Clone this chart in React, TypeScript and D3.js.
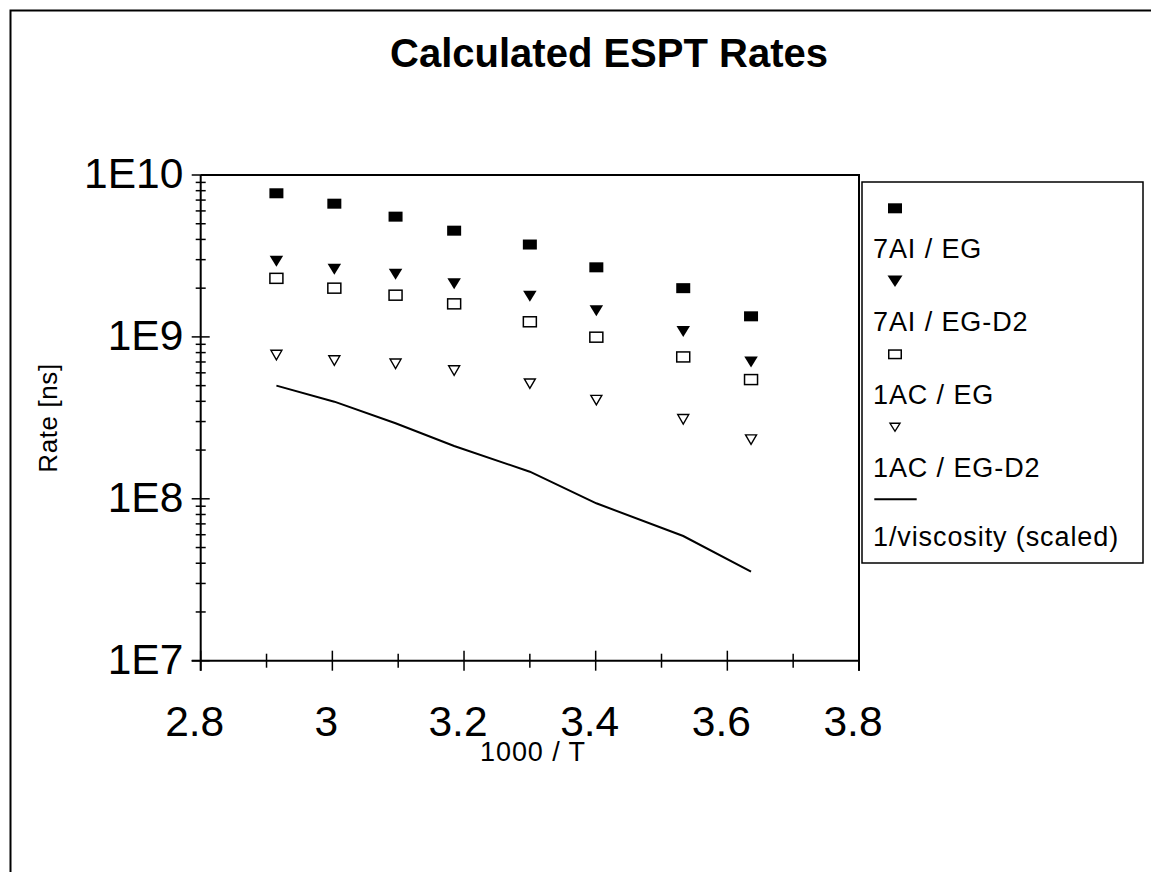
import React from "react";
import * as d3 from "d3";

const invT = [2.915, 3.003, 3.096, 3.185, 3.3, 3.401, 3.533, 3.636];
const ai7EG = [7.71e9, 6.65e9, 5.53e9, 4.53e9, 3.72e9, 2.69e9, 2.0e9, 1.34e9];
const ai7EGD2 = [2.93e9, 2.62e9, 2.44e9, 2.13e9, 1.78e9, 1.45e9, 1.08e9, 7.0e8];
const ac1EG = [2.3e9, 2.0e9, 1.81e9, 1.6e9, 1.24e9, 9.96e8, 7.52e8, 5.45e8];
const ac1EGD2 = [7.73e8, 7.15e8, 6.82e8, 6.2e8, 5.14e8, 4.07e8, 3.1e8, 2.32e8];
const invVisc = [5.0e8, 3.98e8, 2.93e8, 2.12e8, 1.47e8, 9.38e7, 5.89e7, 3.55e7];

const xMajorTicks = [2.8, 3.0, 3.2, 3.4, 3.6, 3.8];
const xMinorTicks = [2.9, 3.1, 3.3, 3.5, 3.7];
const xTickLabels = ["2.8", "3", "3.2", "3.4", "3.6", "3.8"];
const yMajorTicks = [1e7, 1e8, 1e9, 1e10];
const yTickLabels = ["1E7", "1E8", "1E9", "1E10"];
const legendLabels = ["7AI / EG", "7AI / EG-D2", "1AC / EG", "1AC / EG-D2", "1/viscosity (scaled)"];

const FONT = "'Liberation Sans', Arial, sans-serif";

export default function App() {
  const x = d3.scaleLinear().domain([2.8, 3.8]).range([200.7, 859]);
  const y = d3.scaleLog().domain([1e7, 1e10]).range([660.7, 175]);

  const yMinor: number[] = [];
  for (let e = 7; e < 10; e++) {
    for (let m = 2; m <= 9; m++) yMinor.push(m * Math.pow(10, e));
  }

  const line = d3
    .line<number>()
    .x((_, i) => x(invT[i]))
    .y((d) => y(d));

  const sqFilled = (cx: number, cy: number, k: string) => (
    <rect key={k} x={cx - 7} y={cy - 5} width={14} height={10} fill="#000" />
  );
  const sqOpen = (cx: number, cy: number, k: string, w = 13, h = 10) => (
    <rect key={k} x={cx - w / 2} y={cy - h / 2} width={w} height={h} fill="#fff" stroke="#000" strokeWidth={1.5} />
  );
  const triFilled = (cx: number, cy: number, k: string, w = 13.5, h = 11) => (
    <path key={k} d={`M${cx - w / 2},${cy - h / 2}L${cx + w / 2},${cy - h / 2}L${cx},${cy + h / 2}Z`} fill="#000" />
  );
  const triOpen = (cx: number, cy: number, k: string, w = 11, h = 9.5) => (
    <path
      key={k}
      d={`M${cx - w / 2},${cy - h / 2}L${cx + w / 2},${cy - h / 2}L${cx},${cy + h / 2}Z`}
      fill="#fff"
      stroke="#000"
      strokeWidth={1.4}
      strokeLinejoin="miter"
    />
  );

  const legX = 895;
  const legY0 = 208.3;
  const legStep = 73;

  return (
    <svg
      width={1151}
      height={872}
      style={{ position: "absolute", left: 0, top: 0, background: "#fff" }}
      fontFamily={FONT}
    >
      <rect x={0} y={0} width={1151} height={872} fill="#fff" />
      {/* outer frame */}
      <path d="M10.5,900V10.5H1170" fill="none" stroke="#000" strokeWidth={2} />

      {/* title */}
      <text x={609} y={67} textAnchor="middle" fontSize={40} fontWeight="bold">
        Calculated ESPT Rates
      </text>

      {/* plot frame */}
      <path d={`M${x(2.8)},${y(1e10)}H${x(3.8)}V${y(1e7) + 10}`} fill="none" stroke="#000" strokeWidth={2} />
      <line x1={x(2.8)} x2={x(2.8)} y1={y(1e10)} y2={y(1e7) + 10} stroke="#000" strokeWidth={2} />
      <line x1={x(2.8) - 9} x2={x(3.8)} y1={y(1e7)} y2={y(1e7)} stroke="#000" strokeWidth={2} />

      {/* x ticks */}
      {xMajorTicks.map((t, i) => (
        <g key={"xm" + i}>
          <line x1={x(t)} x2={x(t)} y1={y(1e7) - 10} y2={y(1e7) + 10} stroke="#000" strokeWidth={1.5} />
          <text x={x(t) - 6} y={735.5} textAnchor="middle" fontSize={42.5}>
            {xTickLabels[i]}
          </text>
        </g>
      ))}
      {xMinorTicks.map((t, i) => (
        <line key={"xn" + i} x1={x(t)} x2={x(t)} y1={y(1e7) - 7} y2={y(1e7) + 7} stroke="#000" strokeWidth={1.5} />
      ))}

      {/* y ticks */}
      {yMajorTicks.map((t, i) => (
        <g key={"ym" + i}>
          <line x1={x(2.8) - 9} x2={x(2.8) + 9} y1={y(t)} y2={y(t)} stroke="#000" strokeWidth={1.5} />
          <text x={183.3} y={y(t) + 13.4} textAnchor="end" fontSize={42.5}>
            {yTickLabels[i]}
          </text>
        </g>
      ))}
      {yMinor.map((t, i) => (
        <line key={"yn" + i} x1={x(2.8) - 5} x2={x(2.8) + 5} y1={y(t)} y2={y(t)} stroke="#000" strokeWidth={1.5} />
      ))}

      {/* axis titles */}
      <text x={533} y={761} textAnchor="middle" fontSize={27} letterSpacing={0.9}>
        1000 / T
      </text>
      <text
        transform={`translate(57,418) rotate(-90)`}
        textAnchor="middle"
        fontSize={26}
        letterSpacing={0.6}
      >
        Rate [ns]
      </text>

      {/* data */}
      <path d={line(invVisc) || ""} fill="none" stroke="#000" strokeWidth={2} />
      {ai7EG.map((v, i) => sqFilled(x(invT[i]), y(v), "a" + i))}
      {ai7EGD2.map((v, i) => triFilled(x(invT[i]), y(v), "b" + i))}
      {ac1EG.map((v, i) => sqOpen(x(invT[i]), y(v), "c" + i))}
      {ac1EGD2.map((v, i) => triOpen(x(invT[i]), y(v), "d" + i))}

      {/* legend */}
      <rect x={862} y={182} width={281} height={381} fill="#fff" stroke="#000" strokeWidth={1.5} />
      {sqFilled(legX, legY0, "la")}
      {triFilled(legX, legY0 + legStep, "lb", 15, 11.5)}
      {sqOpen(legX, legY0 + legStep * 2, "lc", 12.5, 8.5)}
      {triOpen(legX, legY0 + legStep * 3, "ld", 10, 8)}
      <line x1={874.3} x2={916.7} y1={legY0 + legStep * 4 - 1} y2={legY0 + legStep * 4 - 1} stroke="#000" strokeWidth={2} />
      {legendLabels.map((l, i) => (
        <text key={"lt" + i} x={873} y={legY0 + legStep * i + 49.5 - (i === 4 ? 4 : 0)} fontSize={27} letterSpacing={0.9}>
          {l}
        </text>
      ))}
    </svg>
  );
}
